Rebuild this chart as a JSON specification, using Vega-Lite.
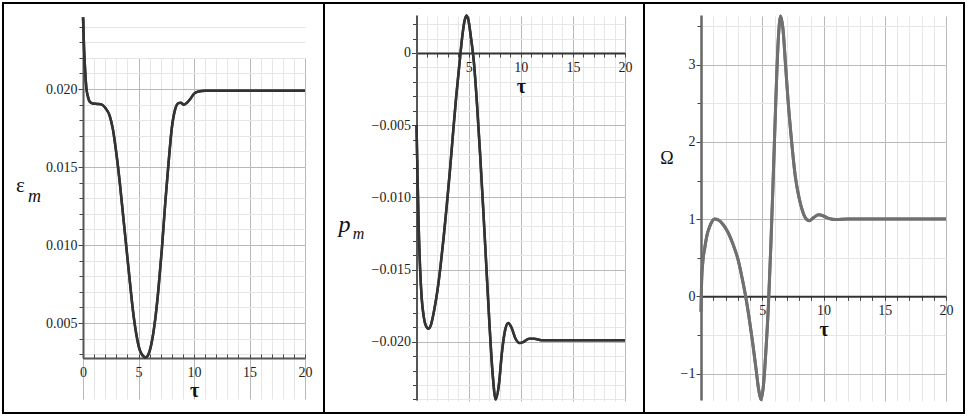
{
  "$schema": "https://vega.github.io/schema/vega-lite/v6.json",
  "padding": {"left": 2, "top": 2, "right": 3, "bottom": 2},
  "spacing": 0,
  "bounds": "flush",
  "config": {
    "view": {"stroke": "black", "strokeWidth": 2},
    "axis": {"labelOverlap": false, "labelFlush": false, "labelBound": false,
      "labelFont": "Liberation Serif", "titleFont": "Liberation Serif"}
  },
  "datasets": {
    "eps": [
      {"tau": 0, "v": 0.0246}, {"tau": 0.1, "v": 0.0225}, {"tau": 0.2, "v": 0.0211}, {"tau": 0.3, "v": 0.0201},
      {"tau": 0.45, "v": 0.0195}, {"tau": 0.6, "v": 0.0192}, {"tau": 0.9, "v": 0.01908}, {"tau": 1.3, "v": 0.01905},
      {"tau": 1.7, "v": 0.0190}, {"tau": 2.0, "v": 0.0188}, {"tau": 2.4, "v": 0.0183}, {"tau": 2.7, "v": 0.0174},
      {"tau": 3.0, "v": 0.0159}, {"tau": 3.3, "v": 0.0141}, {"tau": 3.6, "v": 0.0120}, {"tau": 3.9, "v": 0.0099},
      {"tau": 4.2, "v": 0.0078}, {"tau": 4.5, "v": 0.0058}, {"tau": 4.8, "v": 0.0043}, {"tau": 5.1, "v": 0.0033},
      {"tau": 5.4, "v": 0.0029}, {"tau": 5.65, "v": 0.0028}, {"tau": 5.9, "v": 0.0030}, {"tau": 6.2, "v": 0.0038},
      {"tau": 6.5, "v": 0.0052}, {"tau": 6.8, "v": 0.0072}, {"tau": 7.1, "v": 0.0097}, {"tau": 7.4, "v": 0.0126},
      {"tau": 7.7, "v": 0.0152}, {"tau": 8.0, "v": 0.0175}, {"tau": 8.3, "v": 0.0187}, {"tau": 8.6, "v": 0.0191},
      {"tau": 8.8, "v": 0.01912}, {"tau": 9.1, "v": 0.0190}, {"tau": 9.4, "v": 0.01915}, {"tau": 9.7, "v": 0.0194},
      {"tau": 10.0, "v": 0.0197}, {"tau": 10.4, "v": 0.01985}, {"tau": 11, "v": 0.0199}, {"tau": 12, "v": 0.0199},
      {"tau": 15, "v": 0.0199}, {"tau": 20, "v": 0.0199}
    ],
    "pm": [
      {"tau": 0, "v": -0.0050}, {"tau": 0.1, "v": -0.0085}, {"tau": 0.2, "v": -0.0118}, {"tau": 0.35, "v": -0.0150},
      {"tau": 0.5, "v": -0.0170}, {"tau": 0.7, "v": -0.0183}, {"tau": 0.9, "v": -0.0189}, {"tau": 1.15, "v": -0.0191},
      {"tau": 1.4, "v": -0.0188}, {"tau": 1.7, "v": -0.0178}, {"tau": 2.0, "v": -0.0165}, {"tau": 2.3, "v": -0.0148},
      {"tau": 2.6, "v": -0.0128}, {"tau": 2.9, "v": -0.0106}, {"tau": 3.2, "v": -0.0082}, {"tau": 3.5, "v": -0.0056},
      {"tau": 3.8, "v": -0.0031}, {"tau": 4.1, "v": -0.0009}, {"tau": 4.4, "v": 0.0012}, {"tau": 4.6, "v": 0.0022},
      {"tau": 4.8, "v": 0.0026}, {"tau": 5.0, "v": 0.0022}, {"tau": 5.2, "v": 0.0012}, {"tau": 5.5, "v": -0.0006},
      {"tau": 5.8, "v": -0.0035}, {"tau": 6.1, "v": -0.0070}, {"tau": 6.4, "v": -0.0108}, {"tau": 6.7, "v": -0.0148},
      {"tau": 7.0, "v": -0.0188}, {"tau": 7.3, "v": -0.0222}, {"tau": 7.6, "v": -0.0240}, {"tau": 7.9, "v": -0.0230},
      {"tau": 8.2, "v": -0.0207}, {"tau": 8.5, "v": -0.0192}, {"tau": 8.8, "v": -0.0187}, {"tau": 9.1, "v": -0.0190},
      {"tau": 9.5, "v": -0.0198}, {"tau": 9.9, "v": -0.0201}, {"tau": 10.3, "v": -0.0200}, {"tau": 10.8, "v": -0.0198},
      {"tau": 11.3, "v": -0.0198}, {"tau": 12, "v": -0.0199}, {"tau": 15, "v": -0.0199}, {"tau": 20, "v": -0.0199}
    ],
    "om": [
      {"tau": 0, "v": -0.2}, {"tau": 0.05, "v": 0.2}, {"tau": 0.15, "v": 0.45}, {"tau": 0.3, "v": 0.62},
      {"tau": 0.5, "v": 0.80}, {"tau": 0.7, "v": 0.90}, {"tau": 0.9, "v": 0.97}, {"tau": 1.1, "v": 1.0},
      {"tau": 1.4, "v": 0.99}, {"tau": 1.8, "v": 0.93}, {"tau": 2.2, "v": 0.83}, {"tau": 2.6, "v": 0.68},
      {"tau": 3.0, "v": 0.49}, {"tau": 3.3, "v": 0.28}, {"tau": 3.6, "v": 0.04}, {"tau": 3.9, "v": -0.25},
      {"tau": 4.2, "v": -0.58}, {"tau": 4.5, "v": -0.95}, {"tau": 4.7, "v": -1.2}, {"tau": 4.9, "v": -1.34},
      {"tau": 5.1, "v": -1.15}, {"tau": 5.3, "v": -0.70}, {"tau": 5.5, "v": -0.13}, {"tau": 5.7, "v": 0.65},
      {"tau": 5.9, "v": 1.55}, {"tau": 6.1, "v": 2.5}, {"tau": 6.3, "v": 3.3}, {"tau": 6.5, "v": 3.63},
      {"tau": 6.7, "v": 3.45}, {"tau": 6.9, "v": 3.0}, {"tau": 7.1, "v": 2.55}, {"tau": 7.4, "v": 2.0},
      {"tau": 7.7, "v": 1.55}, {"tau": 8.0, "v": 1.28}, {"tau": 8.3, "v": 1.10}, {"tau": 8.6, "v": 1.0},
      {"tau": 8.85, "v": 0.98}, {"tau": 9.2, "v": 1.02}, {"tau": 9.6, "v": 1.055}, {"tau": 10.0, "v": 1.04},
      {"tau": 10.4, "v": 1.01}, {"tau": 11, "v": 0.995}, {"tau": 12, "v": 1.0}, {"tau": 20, "v": 1.0}
    ]
  },
  "hconcat": [
    {
      "width": 321, "height": 410,
      "data": {"name": "eps"},
      "resolve": {"axis": {"x": "independent", "y": "independent"}},
      "layer": [
        {
          "mark": {"type": "line", "interpolate": "monotone", "stroke": "#333", "strokeWidth": 2.5},
          "encoding": {
            "x": {"field": "tau", "type": "quantitative",
              "scale": {"domain": [0, 20], "range": [80, 302], "nice": false, "zero": false},
              "axis": {"orient": "bottom", "offset": -55, "values": [0,1,2,3,4,5,6,7,8,9,10,11,12,13,14,15,16,17,18,19,20],
                "labels": false, "domain": false, "grid": true, "gridColor": "#e6e6e6", "gridWidth": 1,
                "ticks": true, "tickSize": -4, "tickColor": "#444", "title": null}},
            "y": {"field": "v", "type": "quantitative",
              "scale": {"domain": [0.00276, 0.02462], "range": [355, 14], "nice": false, "zero": false},
              "axis": {"orient": "left", "offset": -80,
                "values": [0.003,0.004,0.005,0.006,0.007,0.008,0.009,0.010,0.011,0.012,0.013,0.014,0.015,0.016,0.017,0.018,0.019,0.020,0.021,0.022,0.023,0.024],
                "labels": false, "domain": false, "grid": true, "gridColor": "#e6e6e6", "gridWidth": 1,
                "ticks": true, "tickSize": 4, "tickColor": "#444",
                "title": "m", "titleFontStyle": "italic", "titleFontWeight": "normal",
                "titleFontSize": 18, "titleColor": "#111", "titleAngle": 0, "titleAlign": "center", "titleBaseline": "alphabetic",
                "titleX": -49, "titleY": 198}}
          }
        },
        {
          "mark": {"type": "line", "interpolate": "monotone", "stroke": "#333", "strokeWidth": 2.5},
          "encoding": {
            "x": {"field": "tau", "type": "quantitative",
              "scale": {"domain": [0, 20], "range": [80, 302], "nice": false, "zero": false},
              "axis": {"orient": "bottom", "offset": -55, "values": [0, 5, 10, 15, 20], "format": "d",
                "grid": true, "gridColor": "#b8b8b8", "gridWidth": 1, "ticks": false,
                "domain": true, "domainColor": "#555", "domainWidth": 2,
                "labelFontSize": 14, "labelColor": "#222",
                "labelBaseline": "alphabetic", "labelPadding": 18,
                "title": "τ", "titleFontWeight": "bold", "titleFontSize": 20,
                "titleColor": "#111", "titleBaseline": "alphabetic", "titleAlign": "center", "titleX": 191, "titleY": 38}},
            "y": {"field": "v", "type": "quantitative",
              "scale": {"domain": [0.00276, 0.02462], "range": [355, 14], "nice": false, "zero": false},
              "axis": {"orient": "left", "offset": -80, "values": [0.005, 0.01, 0.015, 0.02], "format": ".3f",
                "grid": true, "gridColor": "#b8b8b8", "gridWidth": 1, "ticks": true, "tickSize": 5, "tickColor": "#444",
                "domain": true, "domainColor": "#555", "domainWidth": 2,
                "labelFontSize": 14, "labelColor": "#222", "labelPadding": 1,
                "title": "ε", "titleFontWeight": "normal", "titleFontSize": 21,
                "titleColor": "#111", "titleAngle": 0, "titleAlign": "center", "titleBaseline": "alphabetic",
                "titleX": -63, "titleY": 188}}
          }
        }
      ]
    },
    {
      "width": 320, "height": 410,
      "data": {"name": "pm"},
      "resolve": {"axis": {"x": "independent", "y": "independent"}},
      "layer": [
        {
          "mark": {"type": "line", "interpolate": "monotone", "stroke": "#333", "strokeWidth": 2.5},
          "encoding": {
            "x": {"field": "tau", "type": "quantitative",
              "scale": {"domain": [0, 20], "range": [92.5, 301], "nice": false, "zero": false},
              "axis": {"orient": "bottom", "offset": -360, "values": [0,1,2,3,4,5,6,7,8,9,10,11,12,13,14,15,16,17,18,19,20],
                "labels": false, "domain": false, "grid": true, "gridColor": "#e6e6e6", "gridWidth": 1,
                "ticks": true, "tickSize": 4, "tickColor": "#444", "title": null}},
            "y": {"field": "v", "type": "quantitative",
              "scale": {"domain": [-0.02404, 0.00263], "range": [397, 12], "nice": false, "zero": false},
              "axis": {"orient": "left", "offset": -92.5,
                "values": [-0.024,-0.023,-0.022,-0.021,-0.020,-0.019,-0.018,-0.017,-0.016,-0.015,-0.014,-0.013,-0.012,-0.011,-0.010,-0.009,-0.008,-0.007,-0.006,-0.005,-0.004,-0.003,-0.002,-0.001,0,0.001,0.002],
                "labels": false, "domain": false, "grid": true, "gridColor": "#e6e6e6", "gridWidth": 1,
                "ticks": true, "tickSize": 4, "tickColor": "#444",
                "title": "m", "titleFontStyle": "italic", "titleFontWeight": "normal",
                "titleFontSize": 16, "titleColor": "#111", "titleAngle": 0, "titleAlign": "center", "titleBaseline": "alphabetic",
                "titleX": -58.5, "titleY": 235}}
          }
        },
        {
          "mark": {"type": "line", "interpolate": "monotone", "stroke": "#333", "strokeWidth": 2.5},
          "encoding": {
            "x": {"field": "tau", "type": "quantitative",
              "scale": {"domain": [0, 20], "range": [92.5, 301], "nice": false, "zero": false},
              "axis": {"orient": "bottom", "offset": -360, "values": [5, 10, 15, 20], "format": "d",
                "grid": true, "gridColor": "#b8b8b8", "gridWidth": 1, "ticks": false,
                "domain": true, "domainColor": "#333", "domainWidth": 2,
                "labelFontSize": 14, "labelColor": "#222",
                "labelBaseline": "alphabetic", "labelPadding": 18,
                "title": "τ", "titleFontWeight": "bold", "titleFontSize": 20,
                "titleColor": "#111", "titleBaseline": "alphabetic", "titleAlign": "center", "titleX": 196.75, "titleY": 39}},
            "y": {"field": "v", "type": "quantitative",
              "scale": {"domain": [-0.02404, 0.00263], "range": [397, 12], "nice": false, "zero": false},
              "axis": {"orient": "left", "offset": -92.5, "values": [-0.02, -0.015, -0.01, -0.005, 0],
                "labelExpr": "datum.value == 0 ? '0' : format(datum.value, '.3f')",
                "grid": true, "gridColor": {"condition": {"test": "datum.value == 0", "value": "transparent"}, "value": "#b8b8b8"},
                "gridWidth": 1, "ticks": true, "tickSize": 5, "tickColor": "#444",
                "domain": true, "domainColor": "#555", "domainWidth": 2,
                "labelFontSize": 14, "labelColor": "#222", "labelPadding": 1,
                "title": "p", "titleFontStyle": "italic", "titleFontWeight": "normal", "titleFontSize": 24,
                "titleColor": "#111", "titleAngle": 0, "titleAlign": "center", "titleBaseline": "alphabetic",
                "titleX": -72.5, "titleY": 228}}
          }
        }
      ]
    },
    {
      "width": 320, "height": 410,
      "data": {"name": "om"},
      "resolve": {"axis": {"x": "independent", "y": "independent"}},
      "layer": [
        {
          "mark": {"type": "line", "interpolate": "monotone", "stroke": "#707070", "strokeWidth": 3},
          "encoding": {
            "x": {"field": "tau", "type": "quantitative",
              "scale": {"domain": [0, 20], "range": [57, 302], "nice": false, "zero": false},
              "axis": {"orient": "bottom", "offset": -116.7, "values": [0,1,2,3,4,5,6,7,8,9,10,11,12,13,14,15,16,17,18,19,20],
                "labels": false, "domain": false, "grid": true, "gridColor": "#e6e6e6", "gridWidth": 1,
                "ticks": true, "tickSize": 4, "tickColor": "#444", "title": null}},
            "y": {"field": "v", "type": "quantitative",
              "scale": {"domain": [-1.343, 3.644], "range": [397, 12], "nice": false, "zero": false},
              "axis": {"orient": "left", "offset": -57, "values": [-1, -0.5, 0, 0.5, 1, 1.5, 2, 2.5, 3, 3.5],
                "labels": false, "domain": false, "grid": true, "gridColor": "#e6e6e6", "gridWidth": 1,
                "ticks": true, "tickSize": 4, "tickColor": "#444", "title": null}}
          }
        },
        {
          "mark": {"type": "line", "interpolate": "monotone", "stroke": "#707070", "strokeWidth": 3},
          "encoding": {
            "x": {"field": "tau", "type": "quantitative",
              "scale": {"domain": [0, 20], "range": [57, 302], "nice": false, "zero": false},
              "axis": {"orient": "bottom", "offset": -116.7, "values": [5, 10, 15, 20], "format": "d",
                "grid": true, "gridColor": "#b8b8b8", "gridWidth": 1, "ticks": false,
                "domain": true, "domainColor": "#333", "domainWidth": 2,
                "labelFontSize": 14, "labelColor": "#222",
                "labelBaseline": "alphabetic", "labelPadding": 18,
                "title": "τ", "titleFontWeight": "bold", "titleFontSize": 20,
                "titleColor": "#111", "titleBaseline": "alphabetic", "titleAlign": "center", "titleX": 179.5, "titleY": 39}},
            "y": {"field": "v", "type": "quantitative",
              "scale": {"domain": [-1.343, 3.644], "range": [397, 12], "nice": false, "zero": false},
              "axis": {"orient": "left", "offset": -57, "values": [-1, 0, 1, 2, 3], "format": "d",
                "grid": true, "gridColor": {"condition": {"test": "datum.value == 0", "value": "transparent"}, "value": "#b8b8b8"},
                "gridWidth": 1, "ticks": true, "tickSize": 5, "tickColor": "#444",
                "domain": true, "domainColor": "#666", "domainWidth": 2.5,
                "labelFontSize": 14, "labelColor": "#222", "labelPadding": 1,
                "title": "Ω", "titleFontWeight": "normal", "titleFontSize": 18,
                "titleColor": "#111", "titleAngle": 0, "titleAlign": "center", "titleBaseline": "alphabetic",
                "titleX": -34.5, "titleY": 160}}
          }
        }
      ]
    }
  ]
}
